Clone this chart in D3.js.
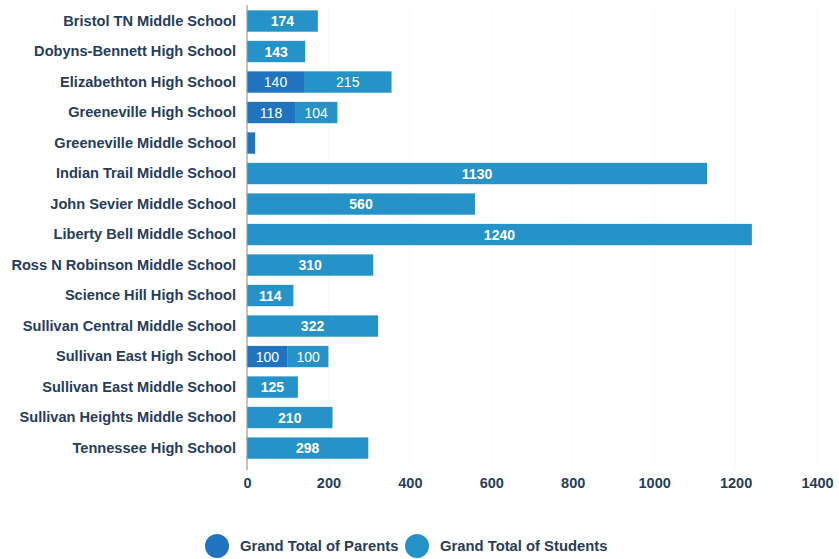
<!DOCTYPE html>
<html><head><meta charset="utf-8">
<script src="https://cdn.jsdelivr.net/npm/d3@7"></script>
<style>
body{margin:0;background:#fff;}
svg{display:block;font-family:"Liberation Sans",Arial,sans-serif;}
</style></head>
<body><svg id="c" width="839" height="559"></svg>
<script>
const schools = ["Bristol TN Middle School","Dobyns-Bennett High School","Elizabethton High School","Greeneville High School","Greeneville Middle School","Indian Trail Middle School","John Sevier Middle School","Liberty Bell Middle School","Ross N Robinson Middle School","Science Hill High School","Sullivan Central Middle School","Sullivan East High School","Sullivan East Middle School","Sullivan Heights Middle School","Tennessee High School"];
const parents = [0,0,140,118,20,0,0,0,0,0,0,100,0,0,0];
const students = [174,143,215,104,0,1130,560,1240,310,114,322,100,125,210,298];
const xTicks = [0,200,400,600,800,1000,1200,1400];
const seriesNames = ["Grand Total of Parents","Grand Total of Students"];
const colors = ["#1f73bf","#2592c8"];

const svg = d3.select("#c");
const x = d3.scaleLinear().domain([0,1400]).range([247,817]);
const y = d3.scaleBand().domain(schools).range([1.2,467.9]).padding(0.3);
const textCol = "#263d5c";

// faint grid
svg.append("g").selectAll("line").data(xTicks.slice(1)).join("line")
  .attr("x1",d=>x(d)).attr("x2",d=>x(d)).attr("y1",5).attr("y2",468)
  .attr("stroke","#f8f8f8").attr("stroke-width",1);

const rows = schools.map((s,i)=>({s,p:parents[i],st:students[i]}));
const g = svg.append("g");
g.selectAll("rect.p").data(rows.filter(r=>r.p>0)).join("rect").attr("class","p")
  .attr("x",x(0)).attr("y",d=>y(d.s)).attr("width",d=>x(d.p)-x(0)).attr("height",y.bandwidth())
  .attr("fill",colors[0]);
g.selectAll("rect.s").data(rows.filter(r=>r.st>0)).join("rect").attr("class","s")
  .attr("x",d=>x(d.p)).attr("y",d=>y(d.s)).attr("width",d=>x(d.p+d.st)-x(d.p)).attr("height",y.bandwidth())
  .attr("fill",colors[1]);

const lab = [];
rows.forEach(r=>{
  const stacked = r.p>0 && r.st>0;
  if(r.p>0 && x(r.p)-x(0)>25) lab.push({s:r.s,v:r.p,cx:(x(0)+x(r.p))/2,w:stacked?"normal":"bold"});
  if(r.st>0) lab.push({s:r.s,v:r.st,cx:(x(r.p)+x(r.p+r.st))/2,w:stacked?"normal":"bold"});
});
g.selectAll("text.v").data(lab).join("text").attr("class","v")
  .attr("x",d=>d.cx).attr("y",d=>y(d.s)+y.bandwidth()/2).attr("dy","0.36em")
  .attr("text-anchor","middle").attr("fill","#fff").attr("font-size",14).attr("font-weight",d=>d.w)
  .text(d=>d.v);

svg.append("line").attr("x1",x(0)).attr("x2",x(0)).attr("y1",5).attr("y2",470)
  .attr("stroke","#9a9a9a").attr("stroke-width",1.2);

const ya = svg.append("g").attr("transform",`translate(${x(0)-11},0)`)
  .call(d3.axisLeft(y).tickSize(0).tickPadding(0));
ya.select(".domain").remove();
ya.selectAll("text").attr("font-size",14.6).attr("font-weight","bold").attr("fill",textCol)
  .attr("font-family","'Liberation Sans',Arial,sans-serif");

const xa = svg.append("g").attr("transform","translate(0,468)")
  .call(d3.axisBottom(x).tickValues(xTicks).tickSize(0).tickPadding(10).tickFormat(d3.format("d")));
xa.select(".domain").remove();
xa.selectAll("text").attr("font-size",14.5).attr("font-weight","bold").attr("fill",textCol)
  .attr("font-family","'Liberation Sans',Arial,sans-serif");

const leg = svg.append("g");
const legX = [217,417];
seriesNames.forEach((n,i)=>{
  leg.append("circle").attr("cx",legX[i]).attr("cy",546).attr("r",12).attr("fill",colors[i]);
  leg.append("text").attr("x",legX[i]+23).attr("y",546).attr("dy","0.36em")
    .attr("font-size",14.8).attr("font-weight","bold").attr("fill",textCol).text(n);
});
</script>
</body></html>
